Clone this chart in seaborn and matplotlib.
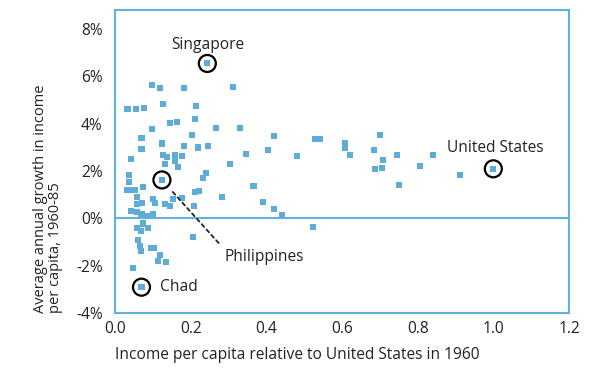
import matplotlib
matplotlib.use("Agg")
import matplotlib.pyplot as plt
import seaborn as sns
import pandas as pd
from matplotlib.ticker import FuncFormatter

# Income per capita relative to US in 1960 (x) and average annual growth 1960-85 in % (y)
income_rel = [0.097, 0.120, 0.182, 0.313, 0.244, 0.033, 0.056, 0.077, 0.128, 0.213,
              0.211, 0.146, 0.164, 0.099, 0.267, 0.331, 0.203, 0.070, 0.124, 0.182,
              0.220, 0.245, 0.420, 0.404, 0.345, 0.480, 0.528, 0.541, 0.608, 0.608,
              0.620, 0.042, 0.128, 0.138, 0.158, 0.177, 0.070, 0.132, 0.158, 0.167,
              0.304, 0.037, 0.124, 0.074, 0.033, 0.043, 0.053, 0.232, 0.241, 0.366,
              0.212, 0.222, 0.057, 0.101, 0.106, 0.153, 0.176, 0.284, 0.390, 0.072,
              0.058, 0.132, 0.145, 0.209, 0.041, 0.057, 0.070, 0.085, 0.100, 0.420,
              0.442, 0.057, 0.068, 0.087, 0.073, 0.524, 0.205, 0.061, 0.066, 0.068,
              0.094, 0.102, 0.120, 0.114, 0.135, 0.047, 0.070, 0.700, 0.684, 0.709,
              0.746, 0.686, 0.705, 0.807, 0.840, 0.750, 0.911, 1.000, 0.038]
growth = [5.64, 5.51, 5.51, 5.55, 6.54, 4.62, 4.62, 4.67, 4.84, 4.74,
          4.20, 4.01, 4.08, 3.77, 3.82, 3.82, 3.51, 3.41, 3.16, 3.07,
          2.99, 3.07, 3.47, 2.87, 2.70, 2.62, 3.34, 3.34, 3.19, 2.97,
          2.69, 2.49, 2.66, 2.60, 2.66, 2.64, 2.94, 2.31, 2.43, 2.17,
          2.31, 1.55, 1.62, 1.32, 1.19, 1.19, 1.19, 1.72, 1.91, 1.36,
          1.10, 1.15, 0.91, 0.83, 0.66, 0.83, 0.87, 0.89, 0.70, 0.63,
          0.60, 0.60, 0.52, 0.52, 0.32, 0.26, 0.20, 0.09, 0.20, 0.38,
          0.14, -0.40, -0.53, -0.40, -0.22, -0.35, -0.80, -0.91, -1.17, -1.40,
          -1.24, -1.24, -1.57, -1.81, -1.85, -2.09, -2.91, 3.50, 2.90, 2.46,
          2.67, 2.09, 2.12, 2.19, 2.66, 1.41, 1.84, 2.09, 1.81]

hl_names = ["Singapore", "Philippines", "Chad", "United States"]
hl_x = [0.244, 0.124, 0.070, 1.000]
hl_y = [6.54, 1.62, -2.91, 2.09]

x_ticks = [0.0, 0.2, 0.4, 0.6, 0.8, 1.0, 1.2]
y_ticks = [-4, -2, 0, 2, 4, 6, 8]

BLUE = "#62b2de"
MARK = "#5eacd8"
TXT = "#222222"
FS = 11.2

sns.set_theme(style="white")
plt.rcParams["font.family"] = ["Open Sans", "DejaVu Sans"]

fig = plt.figure(figsize=(6.0, 3.69), dpi=100)
ax = fig.add_axes([0.1917, 0.1518, 0.7566, 0.8212])

df = pd.DataFrame({"x": income_rel, "y": growth})
sns.scatterplot(data=df, x="x", y="y", ax=ax, marker="s", s=19,
                color=MARK, edgecolor="none", linewidth=0, zorder=3)

hl = pd.DataFrame({"x": hl_x, "y": hl_y, "name": hl_names})
ax.scatter(hl["x"], hl["y"], s=150, facecolors="none", edgecolors="black",
           linewidths=1.6, zorder=4)

ax.axhline(0, color=BLUE, lw=1.5, zorder=2)

ax.set_xlim(0, 1.2)
ax.set_ylim(-4, 8.8)
ax.set_xticks(x_ticks)
ax.set_yticks(y_ticks)
ax.xaxis.set_major_formatter(FuncFormatter(lambda v, p: f"{v:.1f}"))
ax.yaxis.set_major_formatter(FuncFormatter(lambda v, p: f"{int(round(v))}%"))
ax.tick_params(axis="both", direction="in", length=5, width=1.2, color=BLUE,
               labelsize=FS, labelcolor=TXT, pad=9)
ax.tick_params(axis="x", pad=6)
for sp in ax.spines.values():
    sp.set_color(BLUE)
    sp.set_linewidth(1.5)
    sp.set_visible(True)

ax.set_xlabel("Income per capita relative to United States in 1960",
              fontsize=FS, color=TXT, loc="left", labelpad=7)
ax.set_ylabel("Average annual growth in income\nper capita, 1960-85",
              fontsize=10.5, color=TXT, loc="bottom", labelpad=9,
              multialignment="left", linespacing=1.05)

# labels
ax.text(hl_x[0], 7.34, hl_names[0], ha="center", va="center", fontsize=FS, color=TXT)
ax.text(0.118, hl_y[2], hl_names[2], ha="left", va="center", fontsize=FS, color=TXT)
ax.text(1.005, 2.96, hl_names[3], ha="center", va="center", fontsize=FS, color=TXT)
ax.annotate(hl_names[1], xy=(hl_x[1], hl_y[1]), xytext=(0.395, -1.64),
            ha="center", va="center", fontsize=FS, color=TXT,
            arrowprops=dict(arrowstyle="-", linestyle=(0, (2, 2)), lw=1.3,
                            color=TXT, shrinkA=3, shrinkB=10,
                            relpos=(0.02, 0.85)))

fig.savefig("out.png", dpi=100, facecolor="white")
